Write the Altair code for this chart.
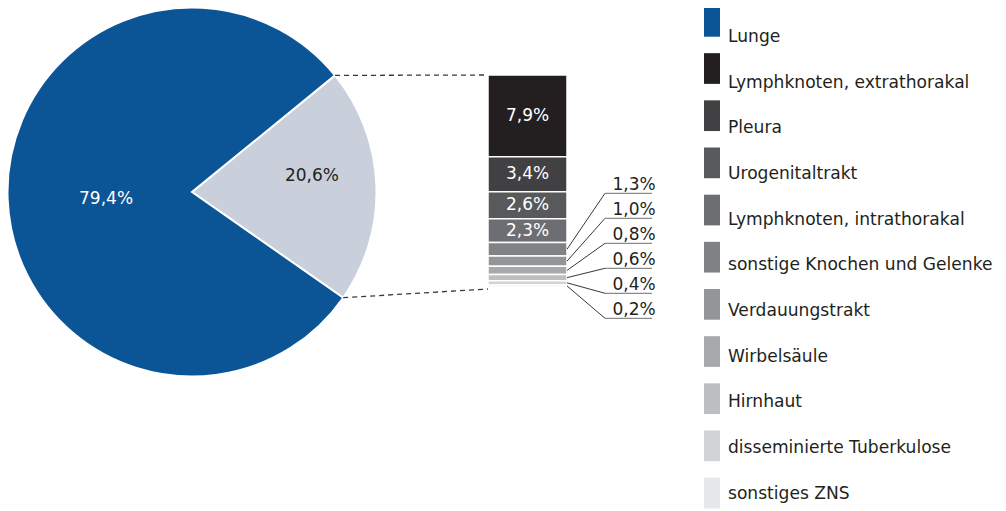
import math
import altair as alt
import pandas as pd

# ---------------- data ----------------
pie_categories = ["extrapulmonal", "Lunge"]
pie_values = [20.6, 79.4]
pie_labels = ["20,6%", "79,4%"]
pie_colors = ["#c9d0dc", "#0b5596"]

extra_categories = [
    "Lymphknoten, extrathorakal",
    "Pleura",
    "Urogenitaltrakt",
    "Lymphknoten, intrathorakal",
    "sonstige Knochen und Gelenke",
    "Verdauungstrakt",
    "Wirbelsäule",
    "Hirnhaut",
    "disseminierte Tuberkulose",
    "sonstiges ZNS",
]
extra_values = [7.9, 3.4, 2.6, 2.3, 1.3, 1.0, 0.8, 0.6, 0.4, 0.2]
extra_labels = ["7,9%", "3,4%", "2,6%", "2,3%", "1,3%", "1,0%", "0,8%", "0,6%", "0,4%", "0,2%"]
extra_colors = ["#231f20", "#414042", "#58595b", "#6d6e71", "#808285",
                "#939598", "#a7a9ac", "#bcbec0", "#d1d3d4", "#e6e7e8"]

legend_categories = ["Lunge"] + extra_categories

# ---------------- layout ----------------
FONT = "DejaVu Sans"
TEXT_DARK = "#231f20"
W, H = 990, 503
CX, CY, R = 184, 184, 184.5
START = math.radians(50.8)
BAR_X0, BAR_X1 = 480, 559
BAR_TOP, BAR_BOTTOM = 67, 280
BAR_TOTAL = pie_values[0]
SLOT_Y0, SLOT_STEP = 185.3, 25.0
LEAD_X1, LINE_X1 = 597, 644
LABEL_X = 626
LEG_TOP, LEG_STEP, LEG_BOX = -2, 47.17, 30.7
LEG_PAD = 1 - LEG_BOX / LEG_STEP
LEG_END = LEG_TOP + LEG_STEP * (len(legend_categories) - LEG_PAD)

all_cats = pie_categories + extra_categories
all_colors = pie_colors + extra_colors
color_scale = alt.Scale(domain=all_cats, range=all_colors)

# ---------------- tables ----------------
pie_df = pd.DataFrame({"cat": pie_categories, "value": pie_values,
                       "label": pie_labels, "order": range(len(pie_values))})
pie_df["mid"] = pie_df["value"].cumsum() - pie_df["value"] / 2
pie_total = float(sum(pie_values))

bar_df = pd.DataFrame({"cat": extra_categories, "value": extra_values, "label": extra_labels})
bar_df["end"] = bar_df["value"].cumsum()
bar_df["start"] = bar_df["end"] - bar_df["value"]
bar_df["mid"] = (bar_df["start"] + bar_df["end"]) / 2

px_per = (BAR_BOTTOM - BAR_TOP) / BAR_TOTAL
outside = bar_df[bar_df["value"] < 2].copy().reset_index(drop=True)
outside["slot"] = [(SLOT_Y0 + i * SLOT_STEP - BAR_TOP) / px_per for i in range(len(outside))]

legend_df = pd.DataFrame({"cat": legend_categories})

# connector lines between the pie slice edges and the bar
a0 = START
a1 = START + 2 * math.pi * pie_values[0] / pie_total
conn_df = pd.DataFrame({
    "x": [CX + R * math.sin(a0), CX + R * math.sin(a1)],
    "y": [CY - R * math.cos(a0), CY - R * math.cos(a1)],
    "x2": [BAR_X0, BAR_X0],
    "y2": [BAR_TOP, BAR_BOTTOM + 1],
})

theta_scale = alt.Scale(domain=[0, pie_total], range=[START, START + 2 * math.pi], nice=False, zero=False)
ybar = alt.Scale(domain=[0, BAR_TOTAL], range=[BAR_TOP, BAR_BOTTOM], nice=False, zero=False)

# ---------------- layers ----------------
pie = alt.Chart(pie_df).mark_arc(outerRadius=R, stroke="white", strokeWidth=2).encode(
    theta=alt.Theta("value:Q", stack=True, scale=theta_scale),
    order=alt.Order("order:Q"),
    color=alt.Color("cat:N", scale=color_scale, legend=None),
    x=alt.value(CX), y=alt.value(CY),
)

pie_text_big = alt.Chart(pie_df).transform_filter(alt.datum.cat == "Lunge").mark_text(
    radius=86, dy=4, color="white", fontSize=17, font=FONT, baseline="middle", align="center"
).encode(
    theta=alt.Theta("mid:Q", stack=False, scale=theta_scale),
    text="label:N", x=alt.value(CX), y=alt.value(CY),
)

pie_text_small = alt.Chart(pie_df).transform_filter(alt.datum.cat != "Lunge").mark_text(
    radius=120, dy=-12, color=TEXT_DARK, fontSize=17, font=FONT, baseline="middle", align="center"
).encode(
    theta=alt.Theta("mid:Q", stack=False, scale=theta_scale),
    text="label:N", x=alt.value(CX), y=alt.value(CY),
)

connectors = alt.Chart(conn_df).mark_rule(color="#3a3a3a", strokeWidth=1.3, strokeDash=[5, 4]).encode(
    x=alt.X("x:Q", scale=None), y=alt.Y("y:Q", scale=None),
    x2="x2:Q", y2="y2:Q",
)

bar = alt.Chart(bar_df).mark_rect(stroke="white", strokeWidth=1.5).encode(
    y=alt.Y("start:Q", scale=ybar, axis=None), y2="end:Q",
    x=alt.value(BAR_X0), x2=alt.value(BAR_X1),
    color=alt.Color("cat:N", scale=color_scale, legend=None),
)

bar_text = alt.Chart(bar_df).transform_filter(alt.datum.value >= 2).mark_text(
    color="white", fontSize=17, font=FONT, baseline="middle", align="center"
).encode(
    y=alt.Y("mid:Q", scale=ybar, axis=None),
    x=alt.value((BAR_X0 + BAR_X1) / 2), text="label:N",
)

leaders = alt.Chart(outside).mark_rule(color=TEXT_DARK, strokeWidth=0.9).encode(
    y=alt.Y("mid:Q", scale=ybar, axis=None), y2="slot:Q",
    x=alt.value(BAR_X1), x2=alt.value(LEAD_X1),
)

underlines = alt.Chart(outside).mark_rule(color="#8a8a8a", strokeWidth=1.2).encode(
    y=alt.Y("slot:Q", scale=ybar, axis=None),
    x=alt.value(LEAD_X1), x2=alt.value(LINE_X1),
)

out_text = alt.Chart(outside).mark_text(
    color=TEXT_DARK, fontSize=17, font=FONT, baseline="alphabetic", align="center", dy=-3
).encode(
    y=alt.Y("slot:Q", scale=ybar, axis=None),
    x=alt.value(LABEL_X), text="label:N",
)

leg_y = alt.Scale(domain=legend_categories, range=[LEG_TOP, LEG_END], paddingInner=LEG_PAD, paddingOuter=0)

legend_boxes = alt.Chart(legend_df).mark_rect().encode(
    y=alt.Y("cat:N", scale=leg_y, axis=None, sort=legend_categories),
    x=alt.value(696), x2=alt.value(712),
    color=alt.Color("cat:N", scale=color_scale, legend=None),
)

legend_text = alt.Chart(legend_df).mark_text(
    color=TEXT_DARK, fontSize=17.1, font=FONT, baseline="alphabetic", align="left", dy=13
).encode(
    y=alt.Y("cat:N", scale=leg_y, axis=None, sort=legend_categories),
    x=alt.value(720), text="cat:N",
)

chart = alt.layer(
    pie, pie_text_big, pie_text_small, connectors, bar, bar_text,
    leaders, underlines, out_text, legend_boxes, legend_text,
).resolve_scale(
    x="independent", y="independent"
).properties(
    width=W, height=H, padding=0, autosize=alt.AutoSizeParams(type="none")
).configure_view(stroke=None)

chart.save("out.html", embed_options={"renderer": "svg", "actions": False})
